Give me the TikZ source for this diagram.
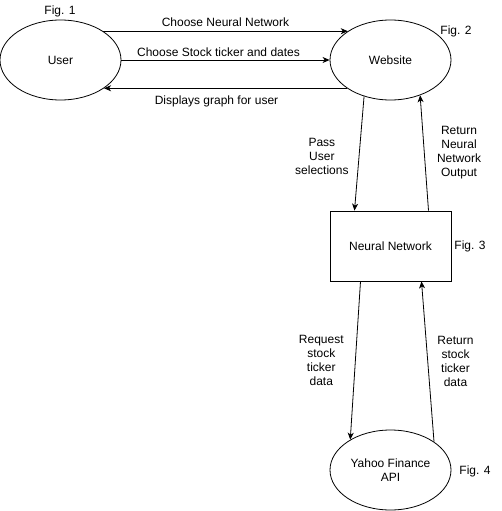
\documentclass[tikz,border=0pt]{standalone}
\usepackage{fontspec}
\setmainfont{Liberation Sans}
\usetikzlibrary{shapes.geometric,arrows.meta}
\begin{document}
\begin{tikzpicture}[x=1pt,y=-1pt,line width=0.8pt,
    every node/.style={font=\fontsize{12}{14}\selectfont,align=center},
    blob/.style={draw,ellipse,minimum width=121pt,minimum height=80pt,inner sep=0pt},
    box/.style={draw,rectangle,minimum width=121pt,minimum height=70pt,inner sep=0pt},
    >={Stealth[length=7pt,width=6pt,inset=2pt]}]
    \useasboundingbox (0,0) rectangle (501,511);
    \path (60.5,60) node [blob](user){User};
    \path (390.5,60) node [blob](web){Website};
    \path (390.5,246) node [box](nn){Neural Network};
    \path (390.5,470) node [blob](yahoo){Yahoo Finance\\API};
    \path (60,11) node(fig1){Fig. 1} (456,31) node(fig2){Fig. 2}
          (470,246) node(fig3){Fig. 3} (475,471) node(fig4){Fig. 4};
    \draw[->] (user.34) -- node[above,yshift=1pt]{Choose Neural Network} (web.146);
    \draw[->] (user.east) -- node[above,xshift=-7pt]{Choose Stock ticker and dates} (web.west);
    \draw[->] (web.213) -- node[below,xshift=-9pt,yshift=-4pt]{Displays graph for user} (user.-33);
    \draw[->] (web.234) -- node[left,xshift=-7pt,yshift=-3pt]{Pass\\User\\selections} ([xshift=-36pt]nn.north);
    \draw[->] ([xshift=38pt]nn.north) -- node[right,xshift=9pt]{Return\\Neural\\Network\\Output} (web.-50);
    \draw[->] ([xshift=-30pt]nn.south) -- node[left,xshift=-8pt]{Request\\stock\\ticker\\data} (yahoo.143);
    \draw[->] (yahoo.33) -- node[right,xshift=6pt]{Return\\stock\\ticker\\data} ([xshift=31pt]nn.south);

\end{tikzpicture}
\end{document}
